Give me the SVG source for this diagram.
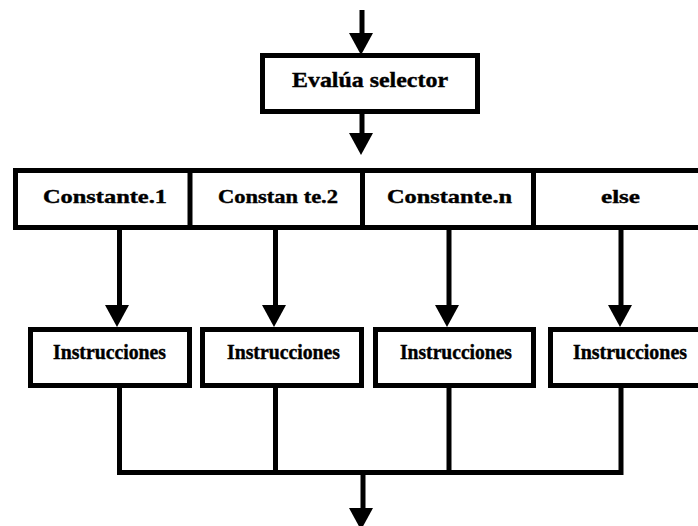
<svg xmlns="http://www.w3.org/2000/svg" width="698" height="526" viewBox="0 0 698 526">
  <style>
    .box { fill: #fff; stroke: #000; stroke-width: 5; }
    .wire { fill: none; stroke: #000; stroke-width: 5; }
    .head { fill: #000; }
    .lbl { font-family: "Liberation Serif", "Times New Roman", serif; font-weight: bold; fill: #000; stroke: #000; stroke-width: 0.4; }
    .big { font-size: 21px; }
    .mid { font-size: 19px; }
    .small { font-size: 20px; }
  </style>
  <defs>
    <polygon id="ah" class="head" points="-12,0 12,0 0,22"/>
  </defs>
  <rect width="698" height="526" fill="#fff"/>

  <!-- connectors -->
  <g id="connectors">
    <!-- entry -->
    <line class="wire" x1="362" y1="10" x2="362" y2="36"/>
    <use href="#ah" x="361" y="33"/>
    <!-- selector to cases -->
    <line class="wire" x1="362" y1="114" x2="362" y2="136"/>
    <use href="#ah" x="361" y="133"/>
    <!-- cases to instruction blocks -->
    <line class="wire" x1="119.5" y1="230" x2="119.5" y2="308"/>
    <use href="#ah" x="117" y="305"/>
    <line class="wire" x1="275.5" y1="230" x2="275.5" y2="308"/>
    <use href="#ah" x="274" y="305"/>
    <line class="wire" x1="449" y1="230" x2="449" y2="308"/>
    <use href="#ah" x="447" y="305"/>
    <line class="wire" x1="621" y1="230" x2="621" y2="308"/>
    <use href="#ah" x="620" y="305"/>
    <!-- merge -->
    <polyline class="wire" points="119.5,388 119.5,472.5 621,472.5 621,388"/>
    <line class="wire" x1="275.5" y1="388" x2="275.5" y2="472.5"/>
    <line class="wire" x1="449" y1="388" x2="449" y2="472.5"/>
    <!-- exit -->
    <line class="wire" x1="363" y1="472.5" x2="363" y2="511"/>
    <use href="#ah" x="361" y="508"/>
  </g>

  <!-- selector evaluation -->
  <g id="evalua">
    <rect class="box" x="262.5" y="55.5" width="215" height="56"/>
    <text class="lbl big" x="292" y="87" textLength="156" lengthAdjust="spacingAndGlyphs">Evalúa selector</text>
  </g>

  <!-- case row -->
  <g id="casos">
    <rect class="box" x="15.5" y="170.5" width="700" height="57"/>
    <line class="wire" x1="190" y1="170.5" x2="190" y2="227.5"/>
    <line class="wire" x1="362.5" y1="170.5" x2="362.5" y2="227.5"/>
    <line class="wire" x1="533.5" y1="170.5" x2="533.5" y2="227.5"/>
  </g>
  <g id="c1"><text class="lbl mid" x="43" y="203" textLength="124" lengthAdjust="spacingAndGlyphs">Constante.1</text></g>
  <g id="c2"><text class="lbl mid" x="218" y="203" textLength="120" lengthAdjust="spacingAndGlyphs">Constan te.2</text></g>
  <g id="cn"><text class="lbl mid" x="387" y="203" textLength="125" lengthAdjust="spacingAndGlyphs">Constante.n</text></g>
  <g id="celse"><text class="lbl mid" x="601" y="203" textLength="39" lengthAdjust="spacingAndGlyphs">else</text></g>

  <!-- instruction blocks -->
  <g id="i1">
    <rect class="box" x="30.5" y="329.5" width="159" height="56"/>
    <text class="lbl small" x="53" y="359" textLength="113" lengthAdjust="spacingAndGlyphs">Instrucciones</text>
  </g>
  <g id="i2">
    <rect class="box" x="202.5" y="329.5" width="159" height="56"/>
    <text class="lbl small" x="227" y="359" textLength="113" lengthAdjust="spacingAndGlyphs">Instrucciones</text>
  </g>
  <g id="i3">
    <rect class="box" x="375.5" y="329.5" width="158" height="56"/>
    <text class="lbl small" x="400" y="359" textLength="112" lengthAdjust="spacingAndGlyphs">Instrucciones</text>
  </g>
  <g id="i4">
    <rect class="box" x="550.5" y="329.5" width="170" height="56"/>
    <text class="lbl small" x="573" y="359" textLength="114" lengthAdjust="spacingAndGlyphs">Instrucciones</text>
  </g>
</svg>
